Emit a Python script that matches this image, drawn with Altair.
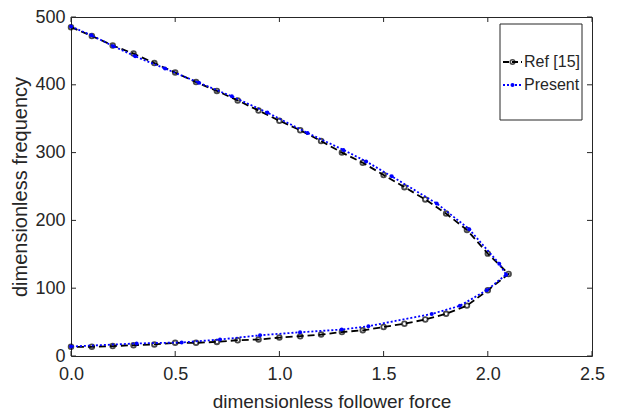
import altair as alt
import pandas as pd

# Ref [15]: upper branch x = 0..2.1, then lower branch x = 2.0..0
ref_upper_x = [0.0, 0.1, 0.2, 0.3, 0.4, 0.5, 0.6, 0.7, 0.8, 0.9, 1.0, 1.1,
               1.2, 1.3, 1.4, 1.5, 1.6, 1.7, 1.8, 1.9, 2.0, 2.1]
ref_upper_y = [485, 472, 458, 446, 432, 418, 404, 391, 377, 362, 347, 333,
               317, 300, 285, 267, 249, 231, 210, 186, 151, 121]
ref_lower_x = [2.0, 1.9, 1.8, 1.7, 1.6, 1.5, 1.4, 1.3, 1.2, 1.1, 1.0,
               0.9, 0.8, 0.7, 0.6, 0.5, 0.4, 0.3, 0.2, 0.1, 0.0]
ref_lower_y = [97, 74.3, 62.2, 53.9, 47.6, 42.8, 37.9, 35.4, 31.6, 29.2, 27.2,
               24.3, 23.3, 20.8, 19.4, 19.4, 17, 16, 14.6, 13.6, 13.6]

# Present: along the curve
present_x = [0.0, 0.098, 0.203, 0.308, 0.451, 0.614, 0.772, 0.942, 1.135,
             1.307, 1.416, 1.539, 1.755, 1.911, 2.055, 2.088, 1.995, 1.866,
             1.731, 1.427, 1.299, 1.099, 0.907, 0.715, 0.531, 0.315, 0.0]
present_y = [486, 473, 457, 442, 424, 403, 383, 359, 329, 304, 287, 265, 225,
             187, 136, 120, 97, 74, 62, 44, 39, 35, 30.6, 24.3, 20, 18.5, 14]

x_ticks = [0, 0.5, 1, 1.5, 2, 2.5]
y_ticks = [0, 100, 200, 300, 400, 500]
legend_labels = ["Ref [15]", "Present"]

W, H = 521, 339
FONT = "Liberation Sans"
AX = "#262626"

ref_x = ref_upper_x + ref_lower_x
ref_y = ref_upper_y + ref_lower_y
ref_df = pd.DataFrame({"x": ref_x, "y": ref_y, "o": list(range(len(ref_x)))})
pre_df = pd.DataFrame({"x": present_x, "y": present_y, "o": list(range(len(present_x)))})

xs = alt.Scale(domain=[0, 2.5], nice=False, zero=False)
ys = alt.Scale(domain=[0, 500], nice=False, zero=False)

X = alt.X("x:Q", scale=xs, axis=alt.Axis(
    values=x_ticks, title="dimensionless follower force", grid=False,
    ticks=False, domain=False, labelFont=FONT, labelFontSize=18,
    labelColor=AX, labelPadding=9, titleFont=FONT, titleFontSize=19,
    titleFontWeight="normal", titleColor=AX, titlePadding=9,
    labelFlush=False))
Y = alt.Y("y:Q", scale=ys, axis=alt.Axis(
    values=y_ticks, title="dimensionless frequency", grid=False,
    ticks=False, domain=False, labelFont=FONT, labelFontSize=18,
    labelColor=AX, labelPadding=6, titleFont=FONT, titleFontSize=20,
    titleFontWeight="normal", titleColor=AX, titlePadding=4,
    labelFlush=False))

ref_line = alt.Chart(ref_df).mark_line(
    color="black", strokeWidth=1.8, strokeDash=[7, 4]
).encode(x=X, y=Y, order="o:Q")
ref_pts = alt.Chart(ref_df).mark_point(
    shape="circle", filled=False, color="black", strokeWidth=1.8, size=22
).encode(x=alt.X("x:Q", scale=xs), y=alt.Y("y:Q", scale=ys))

pre_line = alt.Chart(pre_df).mark_line(
    color="#0000ff", strokeWidth=1.8, strokeDash=[2, 2]
).encode(x=alt.X("x:Q", scale=xs), y=alt.Y("y:Q", scale=ys), order="o:Q")
pre_pts = alt.Chart(pre_df).mark_point(
    shape="circle", filled=True, color="#0000ff", size=16, opacity=1
).encode(x=alt.X("x:Q", scale=xs), y=alt.Y("y:Q", scale=ys))

# inward ticks on all four sides
xt = pd.DataFrame({"x": x_ticks})
yt = pd.DataFrame({"y": y_ticks})
tick_b = alt.Chart(xt).mark_rule(color=AX, strokeWidth=1).encode(
    x=alt.X("x:Q", scale=xs), y=alt.value(H), y2=alt.value(H - 5))
tick_t = alt.Chart(xt).mark_rule(color=AX, strokeWidth=1).encode(
    x=alt.X("x:Q", scale=xs), y=alt.value(0), y2=alt.value(5))
tick_l = alt.Chart(yt).mark_rule(color=AX, strokeWidth=1).encode(
    y=alt.Y("y:Q", scale=ys), x=alt.value(0), x2=alt.value(5))
tick_r = alt.Chart(yt).mark_rule(color=AX, strokeWidth=1).encode(
    y=alt.Y("y:Q", scale=ys), x=alt.value(W), x2=alt.value(W - 5))

# manual legend
one = pd.DataFrame({"k": [0]})
lg_box = alt.Chart(one).mark_rect(fill="white", stroke=AX, strokeWidth=1).encode(
    x=alt.value(429), x2=alt.value(511), y=alt.value(7), y2=alt.value(103))
ly1, ly2 = 45, 68
lg_l1 = alt.Chart(one).mark_rule(color="black", strokeWidth=1.8, strokeDash=[6, 3]).encode(
    x=alt.value(432), x2=alt.value(451), y=alt.value(ly1))
lg_p1 = alt.Chart(one).mark_point(shape="circle", filled=False, color="black",
                                  strokeWidth=1.6, size=20).encode(
    x=alt.value(441.5), y=alt.value(ly1))
lg_l2 = alt.Chart(one).mark_rule(color="#0000ff", strokeWidth=1.8, strokeDash=[2, 2]).encode(
    x=alt.value(432), x2=alt.value(451), y=alt.value(ly2))
lg_p2 = alt.Chart(one).mark_point(shape="circle", filled=True, color="#0000ff",
                                  size=16, opacity=1).encode(
    x=alt.value(441.5), y=alt.value(ly2))
lg_t1 = alt.Chart(one).mark_text(align="left", baseline="middle", font=FONT,
                                 fontSize=16, color=AX, text=legend_labels[0]).encode(
    x=alt.value(453), y=alt.value(ly1))
lg_t2 = alt.Chart(one).mark_text(align="left", baseline="middle", font=FONT,
                                 fontSize=16, color=AX, text=legend_labels[1]).encode(
    x=alt.value(453), y=alt.value(ly2))

chart = alt.layer(
    ref_line, ref_pts, pre_line, pre_pts,
    tick_b, tick_t, tick_l, tick_r,
    lg_box, lg_l1, lg_p1, lg_l2, lg_p2, lg_t1, lg_t2
).properties(
    width=W, height=H,
    autosize=alt.AutoSizeParams(type="none"),
    padding={"left": 63, "top": 9, "right": 16, "bottom": 55},
).configure_view(stroke=AX, strokeWidth=1)

chart.save("out.html", embed_options={"renderer": "svg", "actions": False})
